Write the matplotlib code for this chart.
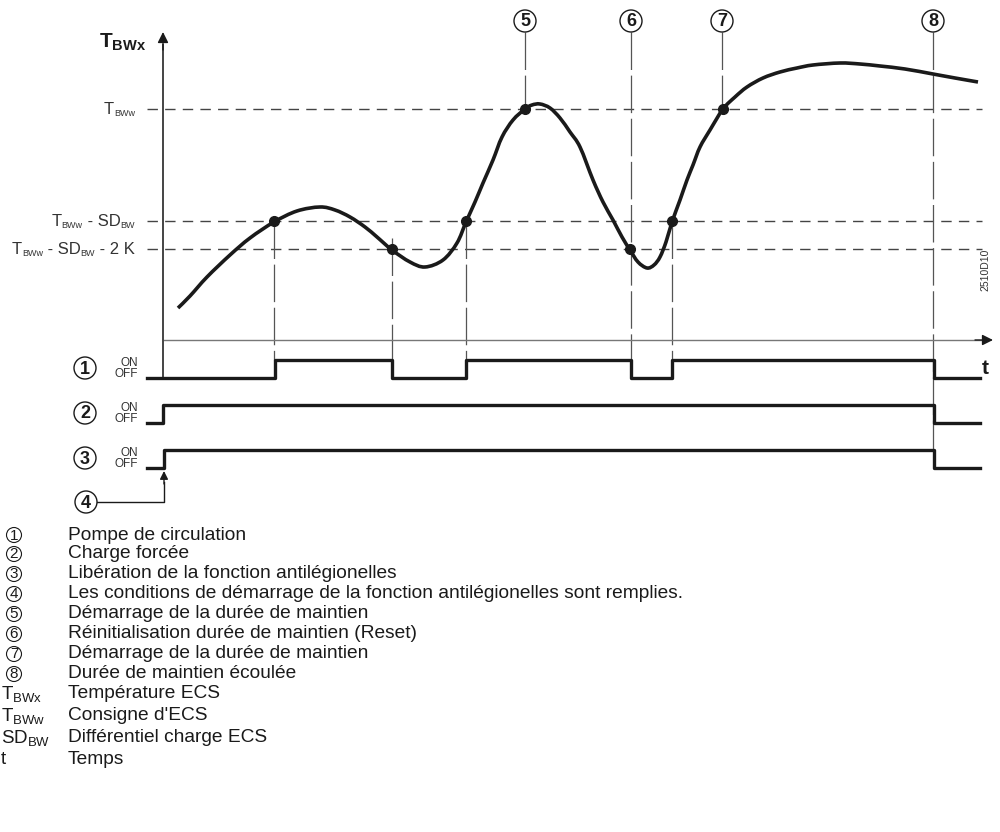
import matplotlib
matplotlib.use('Agg')
from matplotlib import pyplot
from matplotlib.patches import Circle, PathPatch
from matplotlib.path import Path

pyplot.rcParams['font.family'] = ['Liberation Sans', 'DejaVu Sans']
pyplot.rcParams['mathtext.fontset'] = 'custom'
pyplot.rcParams['mathtext.rm'] = 'Liberation Sans'
pyplot.rcParams['mathtext.it'] = 'Liberation Sans'
pyplot.rcParams['mathtext.bf'] = 'Liberation Sans:bold'

# Diagram units: x = time, y = temperature (top is high), same scale as the sketch.
curve_t = [178, 190, 207, 230, 250, 274, 297, 320, 335, 350, 365, 377, 392,
           410, 425, 443, 457, 466, 475, 483, 493, 502, 513, 525, 532, 540,
           550, 560, 570, 580, 593, 603, 613, 622, 630, 638, 647, 654, 660,
           666, 672, 680, 687, 693, 700, 710, 723, 735, 747, 763, 780, 797,
           813, 840, 860, 880, 905, 933, 955, 978]
curve_temp = [308, 296, 277, 255, 238, 222, 211, 207, 210, 217, 227, 237, 250,
              262, 267, 260, 243, 222, 202, 183, 160, 137, 120, 109, 105, 104,
              108, 118, 132, 147, 180, 202, 220, 237, 250, 262, 268, 265, 257,
              242, 222, 200, 180, 165, 147, 130, 109, 97, 87, 78, 72, 68,
              65, 63, 64, 66, 69, 74, 78, 82]

level_values = [109, 221, 249]
level_labels = [[('T', 0), ('BWw', 1)],
                [('T', 0), ('BWw', 1), (' - SD', 0), ('BW', 1)],
                [('T', 0), ('BWw', 1), (' - SD', 0), ('BW', 1), (' - 2 K', 0)]]

# crossing points (time, level)
cross_t = [274, 392, 466, 525, 630, 672, 723]
cross_level = [221, 249, 221, 109, 249, 221, 109]

# numbered events on top of the chart
event_num = ['5', '6', '7', '8']
event_t = [525, 631, 722, 933]
event_line_end = [109, 378, 109, 451]
guide_t = [274, 392, 466, 672]
guide_start = [221, 238, 221, 221]
guide_end = [360, 378, 360, 360]

# ON/OFF signals: switching times and states
sig1_t = [147, 275, 392, 466, 631, 672, 934, 980]
sig1_s = [0, 1, 0, 1, 0, 1, 0, 0]
sig2_t = [147, 163, 934, 980]
sig2_s = [0, 1, 0, 0]
sig3_t = [147, 164, 934, 980]
sig3_s = [0, 1, 0, 0]
sig_off = [378, 423, 468]
sig_num = ['1', '2', '3']

legend_keys = ['1', '2', '3', '4', '5', '6', '7', '8',
               r'T$_{\mathrm{BWx}}$', r'T$_{\mathrm{BWw}}$', r'SD$_{\mathrm{BW}}$', 't']
legend_texts = ['Pompe de circulation',
                'Charge forcée',
                'Libération de la fonction antilégionelles',
                'Les conditions de démarrage de la fonction antilégionelles sont remplies.',
                'Démarrage de la durée de maintien',
                'Réinitialisation durée de maintien (Reset)',
                'Démarrage de la durée de maintien',
                'Durée de maintien écoulée',
                'Température ECS',
                "Consigne d'ECS",
                'Différentiel charge ECS',
                'Temps']
legend_rows = [535, 554, 574, 594, 614, 634, 654, 674, 694, 716, 738, 759]

fig = pyplot.figure(figsize=(10.0, 8.32), dpi=100)
ax = fig.add_axes([0, 0, 1, 1])
ax.set_xlim(0, 1000)
ax.set_ylim(832, 0)
ax.axis('off')
renderer = fig.canvas.get_renderer()

ink = '#1a1a1a'
guide = '#555555'


def smooth_path(xs, ys):
  # Catmull-Rom through the read points, drawn as cubic Bezier pieces
  pts = list(zip(xs, ys))
  verts = [pts[0]]
  codes = [Path.MOVETO]
  for i in range(len(pts) - 1):
    p0 = pts[max(i - 1, 0)]
    p1 = pts[i]
    p2 = pts[i + 1]
    p3 = pts[min(i + 2, len(pts) - 1)]
    c1 = (p1[0] + (p2[0] - p0[0]) / 6, p1[1] + (p2[1] - p0[1]) / 6)
    c2 = (p2[0] - (p3[0] - p1[0]) / 6, p2[1] - (p3[1] - p1[1]) / 6)
    verts += [c1, c2, p2]
    codes += [Path.CURVE4] * 3
  return Path(verts, codes)


def sub_label(x_right, y, parts, size=12, sub_size=6.5):
  # right-aligned text with small subscripts, laid out piece by piece
  x = x_right
  for text, is_sub in reversed(parts):
    if is_sub:
      t = ax.text(x, y + 4, text, fontsize=sub_size, ha='right',
                  va='center', color='#333333')
    else:
      t = ax.text(x, y, text, fontsize=size, ha='right', va='center',
                  color='#333333')
    x -= t.get_window_extent(renderer).width


# axes
ax.plot([163, 985], [340, 340], color='#777777', lw=1.0, zorder=2)
ax.annotate('', xy=(993, 340), xytext=(975, 340),
            arrowprops=dict(arrowstyle='-|>', color=ink, lw=1.0,
                            mutation_scale=16, shrinkA=0, shrinkB=0))
ax.plot([163, 163], [378, 45], color='#444444', lw=1.4, zorder=2)
ax.annotate('', xy=(163, 32), xytext=(163, 50),
            arrowprops=dict(arrowstyle='-|>', color=ink, lw=1.0,
                            mutation_scale=16, shrinkA=0, shrinkB=0))
ax.text(146, 48, r'$\mathbf{T}_{\mathbf{BWx}}$', fontsize=15, ha='right',
        va='baseline', color=ink)
ax.text(985, 368, 't', fontsize=15, fontweight='bold', ha='center',
        va='center', color=ink)
ax.text(985, 270, '2510D10', fontsize=7.5, rotation=90, ha='center',
        va='center', color='#333333')

# threshold levels
for level, parts in zip(level_values, level_labels):
  ax.plot([147, 982], [level, level], color='#444444', lw=1.0,
          linestyle=(0, (7.5, 5.2)), zorder=1)
  sub_label(135, level, parts)

# guide lines
for t, y0, y1 in zip(guide_t, guide_start, guide_end):
  ax.plot([t, t], [y0, y1], color=guide, lw=0.9, linestyle=(0, (30, 4.5)),
          zorder=1)
for num, t, y1 in zip(event_num, event_t, event_line_end):
  ax.plot([t, t], [32, y1], color=guide, lw=0.9, linestyle=(0, (30, 4.5)),
          zorder=1)
  ax.add_patch(Circle((t, 21), 11, facecolor='white', edgecolor=ink,
                      lw=1.0, zorder=4))
  ax.text(t, 22, num, fontsize=13, fontweight='bold', ha='center',
          va='center', color=ink, zorder=5)

# temperature curve
ax.add_patch(PathPatch(smooth_path(curve_t, curve_temp), fill=False,
                       edgecolor=ink, lw=2.6, zorder=3))
ax.plot(cross_t, cross_level, 'o', color=ink, markersize=7, zorder=4)

# signals
for times, states, off, num in zip([sig1_t, sig2_t, sig3_t],
                                   [sig1_s, sig2_s, sig3_s], sig_off, sig_num):
  ax.step(times, [off - 18 * s for s in states], where='post', color=ink,
          lw=2.4, zorder=3)
  ax.text(138, off - 15, 'ON', fontsize=8.5, ha='right', va='center',
          color='#333333')
  ax.text(138, off - 4, 'OFF', fontsize=8.5, ha='right', va='center',
          color='#333333')
  ax.add_patch(Circle((85, off - 10), 11, facecolor='white', edgecolor=ink,
                      lw=1.0, zorder=4))
  ax.text(85, off - 9, num, fontsize=13, fontweight='bold', ha='center',
          va='center', color=ink, zorder=5)

# marker 4: start conditions fulfilled
ax.add_patch(Circle((86, 502), 11, facecolor='white', edgecolor=ink,
                    lw=1.0, zorder=4))
ax.text(86, 503, '4', fontsize=13, fontweight='bold', ha='center',
        va='center', color=ink, zorder=5)
ax.plot([97, 164, 164], [502, 502, 482], color=ink, lw=1.0)
ax.annotate('', xy=(164, 471), xytext=(164, 484),
            arrowprops=dict(arrowstyle='-|>', color=ink, lw=1.0,
                            mutation_scale=12, shrinkA=0, shrinkB=0))

# key
for key, text, y in zip(legend_keys, legend_texts, legend_rows):
  if key.isdigit():
    ax.add_patch(Circle((14, y), 7.5, facecolor='white', edgecolor=ink,
                        lw=0.8))
    ax.text(14, y + 0.5, key, fontsize=11, ha='center', va='center',
            color=ink)
  else:
    ax.text(1, y, key, fontsize=13.5, ha='left', va='center', color=ink)
  ax.text(68, y, text, fontsize=13.8, ha='left', va='center', color=ink)

fig.savefig('out.png', dpi=100)
